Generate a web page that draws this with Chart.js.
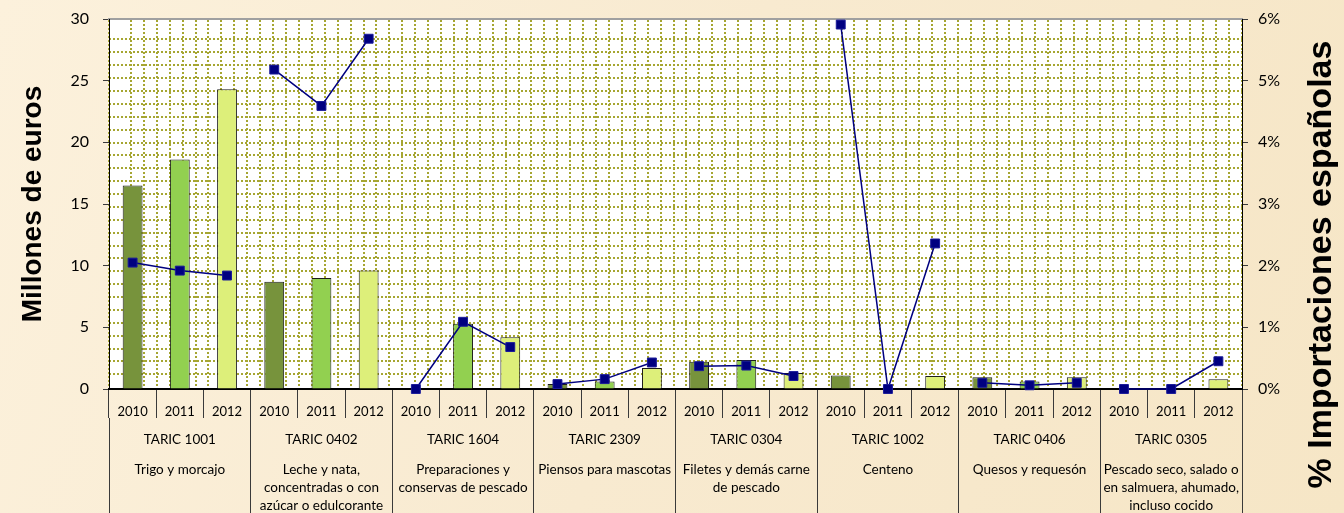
<!DOCTYPE html>
<html>
<head>
<meta charset="utf-8">
<script src="https://cdn.jsdelivr.net/npm/chart.js@4"></script>
<style>
  html, body { margin: 0; padding: 0; }
  body { width: 1344px; height: 513px; overflow: hidden; }
  #wrap { position: relative; width: 1344px; height: 513px; }
</style>
</head>
<body>
<div id="wrap"><canvas id="c" width="1344" height="513"></canvas></div>
<script>
// ---- data ----
const years = ['2010', '2011', '2012'];
const taricCodes = ['TARIC 1001', 'TARIC 0402', 'TARIC 1604', 'TARIC 2309', 'TARIC 0304', 'TARIC 1002', 'TARIC 0406', 'TARIC 0305'];
const descriptions = [
  ['Trigo y morcajo'],
  ['Leche y nata,', 'concentradas o con', 'azúcar o edulcorante'],
  ['Preparaciones y', 'conservas de pescado'],
  ['Piensos para mascotas'],
  ['Filetes y demás carne', 'de pescado'],
  ['Centeno'],
  ['Quesos y requesón'],
  ['Pescado seco, salado o', 'en salmuera, ahumado,', 'incluso cocido']
];
// Millones de euros
const imports2010 = [16.5, 8.7, 0.05, 0.4, 2.2, 1.1, 0.95, 0.03];
const imports2011 = [18.6, 9.0, 5.3, 0.6, 2.35, 0, 0.6, 0.03];
const imports2012 = [24.3, 9.6, 4.2, 1.7, 1.3, 1.05, 0.95, 0.8];
// % Importaciones españolas
const share2010 = [2.05, 5.18, 0, 0.08, 0.37, 5.91, 0.1, 0];
const share2011 = [1.92, 4.59, 1.09, 0.16, 0.38, 0, 0.06, 0];
const share2012 = [1.84, 5.68, 0.68, 0.43, 0.21, 2.36, 0.1, 0.45];
const leftTicks = [0, 5, 10, 15, 20, 25, 30];
const rightTicks = [0, 1, 2, 3, 4, 5, 6];

// ---- build flat series ----
const yearLabels = [], barValues = [], lineValues = [];
const byYearImports = [imports2010, imports2011, imports2012];
const byYearShare = [share2010, share2011, share2012];
taricCodes.forEach((code, g) => {
  years.forEach((y, k) => {
    yearLabels.push(y);
    barValues.push(byYearImports[k][g]);
    lineValues.push(byYearShare[k][g]);
  });
});
const yearColors = ['#77933C', '#92D050', '#DDEF7A'];
const barColors = barValues.map((v, i) => yearColors[i % 3]);

const FONT = 'Lato, "Open Sans", sans-serif';
const tickColor = '#3a3a3a';
const gridColor = '#A6A632';

const bgPlugin = {
  id: 'bg',
  beforeDraw(chart) {
    const {ctx, width, height, chartArea} = chart;
    ctx.save();
    const g = ctx.createLinearGradient(0, 0, width, height);
    g.addColorStop(0, '#FCF1DC');
    g.addColorStop(0.5, '#F8EAD0');
    g.addColorStop(1, '#F6E6C6');
    ctx.fillStyle = g;
    ctx.fillRect(0, 0, width, height);
    ctx.fillStyle = '#FFFFFF';
    ctx.fillRect(chartArea.left, chartArea.top, chartArea.right - chartArea.left, chartArea.bottom - chartArea.top);
    ctx.restore();
  },
  afterDraw(chart) {
    const {ctx} = chart;
    const s = chart.scales.y1;
    ctx.save();
    ctx.translate(s.right - 22, chart.height / 2 + 8);
    ctx.rotate(-Math.PI / 2);
    ctx.font = 'bold 34px "Liberation Sans", Arial, sans-serif';
    ctx.fillStyle = '#000';
    ctx.textAlign = 'center';
    ctx.textBaseline = 'middle';
    ctx.fillText('% Importaciones españolas', 0, 0);
    ctx.restore();
  }
};

const categoryBase = (labels, height, padding, weight, font) => ({
  type: 'category',
  labels: labels,
  position: 'bottom',
  offset: true,
  weight: weight,
  grid: { display: true, drawOnChartArea: false, drawTicks: true, offset: true, tickLength: height, tickColor: tickColor, tickWidth: 1 },
  border: { display: false },
  ticks: { autoSkip: false, maxRotation: 0, minRotation: 0, padding: padding, color: '#000', font: font },
  afterFit(scale) { scale.height = height; scale.paddingLeft = 0; scale.paddingRight = 0; }
});

const xYears = categoryBase(yearLabels, 29, -14, 0, { family: FONT, size: 13 });
xYears.border = { display: true, color: '#000', width: 2 };
const xCodes = categoryBase(taricCodes, 37, -23, 1, { family: FONT, size: 13.5 });
const xDesc = categoryBase(descriptions, 58, -52, 2, { family: FONT, size: 13.5, lineHeight: 1.33 });

new Chart(document.getElementById('c'), {
  data: {
    labels: yearLabels,
    datasets: [
      {
        type: 'line',
        label: '% Importaciones españolas',
        data: lineValues,
        yAxisID: 'y1',
        xAxisID: 'x',
        borderColor: '#000080',
        borderWidth: 1.5,
        pointStyle: 'rect',
        pointRadius: 6.3,
        pointBackgroundColor: '#000080',
        pointBorderColor: '#1a1a9a',
        pointBorderWidth: 1,
        tension: 0,
        order: 0,
        clip: false,
        segment: {
          borderColor: (ctx) => Math.floor(ctx.p0DataIndex / 3) === Math.floor(ctx.p1DataIndex / 3) ? '#000080' : 'rgba(0,0,0,0)'
        }
      },
      {
        type: 'bar',
        label: 'Millones de euros',
        data: barValues,
        yAxisID: 'y',
        xAxisID: 'x',
        backgroundColor: barColors,
        borderColor: '#1c1c1c',
        borderWidth: 1,
        barPercentage: 0.42,
        categoryPercentage: 1,
        order: 1
      }
    ]
  },
  options: {
    responsive: false,
    animation: false,
    devicePixelRatio: 1,
    layout: { padding: { left: 0, right: 0, top: 0, bottom: 0 } },
    plugins: { legend: { display: false }, tooltip: { enabled: false } },
    scales: {
      x: xYears,
      x2: xCodes,
      x3: xDesc,
      gx: {
        type: 'linear', position: 'top', min: -0.7, max: 87.0,
        ticks: { display: false, stepSize: 1 },
        grid: { display: true, drawTicks: false, color: gridColor, lineWidth: 2 },
        border: { display: true, color: '#A0A0A0', width: 2, dash: [2, 2] },
        afterFit(scale) { scale.height = 19; scale.paddingLeft = 0; scale.paddingRight = 0; }
      },
      gy: {
        type: 'linear', position: 'right', min: -1.14, max: 27.59, weight: 5,
        ticks: { display: false, stepSize: 1 },
        grid: { display: true, drawTicks: false, color: gridColor, lineWidth: 2 },
        border: { display: false, dash: [2, 2] },
        afterFit(scale) { scale.width = 0; scale.paddingTop = 0; scale.paddingBottom = 0; }
      },
      y: {
        type: 'linear', position: 'left', min: 0, max: 30,
        afterBuildTicks(scale) { scale.ticks = leftTicks.map(v => ({ value: v })); },
        grid: { display: true, drawOnChartArea: false, drawTicks: true, tickLength: 6, tickColor: tickColor },
        border: { display: true, color: '#000', width: 1 },
        ticks: { color: '#000', padding: 14, font: { family: FONT, size: 16 } },
        title: { display: true, text: 'Millones de euros', color: '#000', font: { family: '"Liberation Sans", Arial, sans-serif', size: 28, weight: 'bold' }, padding: { top: 16, bottom: 0 } },
        afterFit(scale) { scale.width = 109; scale.paddingTop = 0; scale.paddingBottom = 0; }
      },
      y1: {
        type: 'linear', position: 'right', min: 0, max: 6,
        afterBuildTicks(scale) { scale.ticks = rightTicks.map(v => ({ value: v })); },
        grid: { display: true, drawOnChartArea: false, drawTicks: true, tickLength: 6, tickColor: tickColor },
        border: { display: true, color: '#000', width: 1 },
        ticks: { color: '#000', padding: 10, font: { family: FONT, size: 16 }, callback: (v) => v + '%' },
        afterFit(scale) { scale.width = 102; scale.paddingTop = 0; scale.paddingBottom = 0; }
      }
    }
  },
  plugins: [bgPlugin]
});
</script>
</body>
</html>
